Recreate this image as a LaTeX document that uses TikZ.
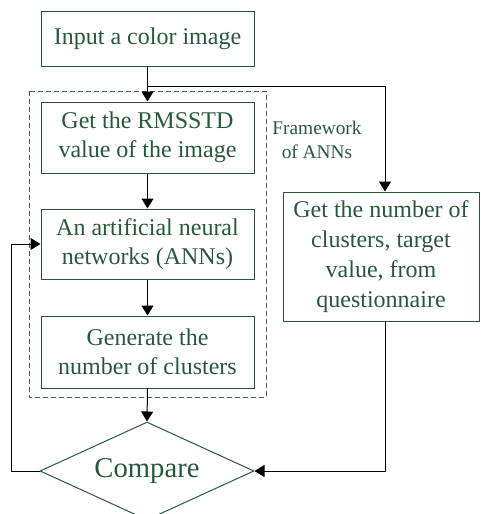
\documentclass[tikz,border=0pt]{standalone}
\usepackage{fontspec}
\setmainfont{Liberation Serif}
\usetikzlibrary{shapes.geometric,arrows.meta}

\definecolor{boxgreen}{RGB}{40,88,60}
\definecolor{dashgrey}{RGB}{70,90,80}

\tikzset{every picture/.style={line width=0.75pt}}
\tikzset{
  stepbox/.style={draw=boxgreen, text=boxgreen, align=center, inner sep=0.75pt,
    minimum width=159.75pt, font=\fontsize{18}{21.5}\selectfont},
  arr/.style={-{Triangle[length=7.5pt,width=9pt]}, black},
}

\begin{document}
\begin{tikzpicture}[x=0.75pt,y=0.75pt,yscale=-1,xscale=1]
    \useasboundingbox (0,0) rectangle (480,514);

    %Dashed frame around the ANN steps
    \draw [dashgrey, dash pattern=on 4pt off 2pt] (29,91) rectangle (266,397) ;

    % Boxes
    \node [stepbox, minimum height=41.25pt] (input) at (147.5,38.5) {Input a color image};
    \node [stepbox, minimum height=53.25pt] (rmsstd) at (147.5,137.5) {Get the RMSSTD\\value of the image};
    \node [stepbox, minimum height=52.5pt] (ann) at (147.5,244) {An artificial neural\\networks (ANNs)};
    \node [stepbox, minimum height=54pt] (gen) at (147.5,352) {Generate the\\number of clusters};
    \node [stepbox, minimum width=147pt, minimum height=96.75pt, font=\fontsize{18}{22.5}\selectfont] (quest) at (381,256.5) {Get the number of\\clusters, target\\value, from\\questionnaire};

    % Decision
    \node [draw=boxgreen, text=boxgreen, diamond, aspect=2.2, inner sep=0pt,
      minimum width=160.5pt, minimum height=73.5pt, font=\fontsize{21.5}{24}\selectfont] (comp) at (147,471) {Compare};

    % Text Node
    \node [text=boxgreen, align=center, font=\fontsize{14.5}{17.5}\selectfont] (frame) at (317,140) {Framework\\of ANNs};

    % Connectors
    \coordinate (split) at (147.5,86);
    \coordinate (turn) at (385,86);
    \draw [arr] (input.south) -- (rmsstd.north) ;
    \draw [arr] (split) -- (turn) -- (turn |- quest.north) ;
    \draw [arr] (rmsstd.south) -- (ann.north) ;
    \draw [arr] (ann.south) -- (gen.north) ;
    \draw [arr] (gen.south) -- (comp.north) ;
    \draw [arr] (turn |- quest.south) -- (turn |- comp.east) -- (comp.east) ;
    \draw [arr] (comp.west) -- ++(-28,0) |- (ann.west) ;
\end{tikzpicture}
\end{document}
